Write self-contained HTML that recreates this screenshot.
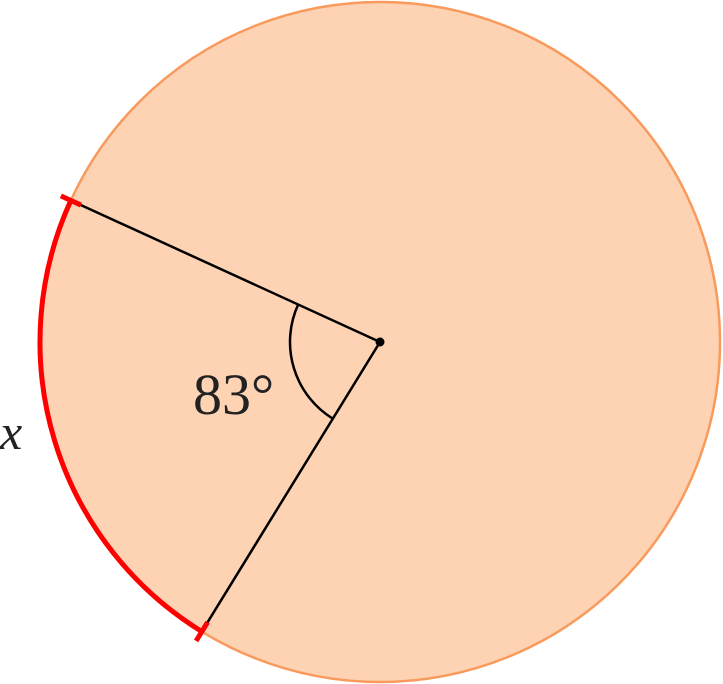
<!DOCTYPE html>
<html><head><meta charset="utf-8"><style>
html,body{margin:0;padding:0;background:#fff;}
svg{display:block;}
</style></head><body>
<svg id="fig" width="723" height="684" viewBox="0 0 723 684">
<circle id="disk" cx="380" cy="342" r="340" fill="#fdd3b4" stroke="#f99a5c" stroke-width="2.5"/>
<g id="marks"></g>
<circle cx="380" cy="342" r="4.5" fill="#000"/>
<text x="193" y="414" font-family="Liberation Serif, serif" font-size="58" fill="#222">83°</text>
<text x="0" y="449" font-family="Liberation Serif, serif" font-style="italic" font-size="50" fill="#222">x</text>
</svg>
<script>
const angleValues = [83];
const startAngles = [155.4];
const cx = 380, cy = 342, R = 340, r0 = 90;
const g = document.getElementById('marks');
const NS = 'http://www.w3.org/2000/svg';
function pt(deg, rad){ const a = deg*Math.PI/180; return [cx + rad*Math.cos(a), cy - rad*Math.sin(a)]; }
const a1 = startAngles[0], a2 = startAngles[0] + angleValues[0];
const p1 = pt(a1, R), p2 = pt(a2, R);
const arc = document.createElementNS(NS,'path');


arc.setAttribute('d', `M${p1[0]},${p1[1]} A${R},${R} 0 0 0 ${p2[0]},${p2[1]}`);
arc.setAttribute('fill','none'); arc.setAttribute('stroke','#f00'); arc.setAttribute('stroke-width','5');
g.appendChild(arc);
[a1, a2].forEach((a, i) => {
  const e = pt(a, R);
  const l = document.createElementNS(NS,'line');
  
  
  l.setAttribute('x1', cx); l.setAttribute('y1', cy); l.setAttribute('x2', e[0]); l.setAttribute('y2', e[1]);
  l.setAttribute('stroke','#000'); l.setAttribute('stroke-width','2.5');
  g.appendChild(l);
  const ta = pt(a, R-11), tb = pt(a, R+11);
  const t = document.createElementNS(NS,'line');
  
  
  t.setAttribute('x1', ta[0]); t.setAttribute('y1', ta[1]); t.setAttribute('x2', tb[0]); t.setAttribute('y2', tb[1]);
  t.setAttribute('stroke','#f00'); t.setAttribute('stroke-width','5');
  g.appendChild(t);
});
const q1 = pt(a1, r0), q2 = pt(a2, r0);
const aa = document.createElementNS(NS,'path');


aa.setAttribute('d', `M${q1[0]},${q1[1]} A${r0},${r0} 0 0 0 ${q2[0]},${q2[1]}`);
aa.setAttribute('fill','none'); aa.setAttribute('stroke','#000'); aa.setAttribute('stroke-width','2.5');
g.appendChild(aa);
</script>
</body></html>
